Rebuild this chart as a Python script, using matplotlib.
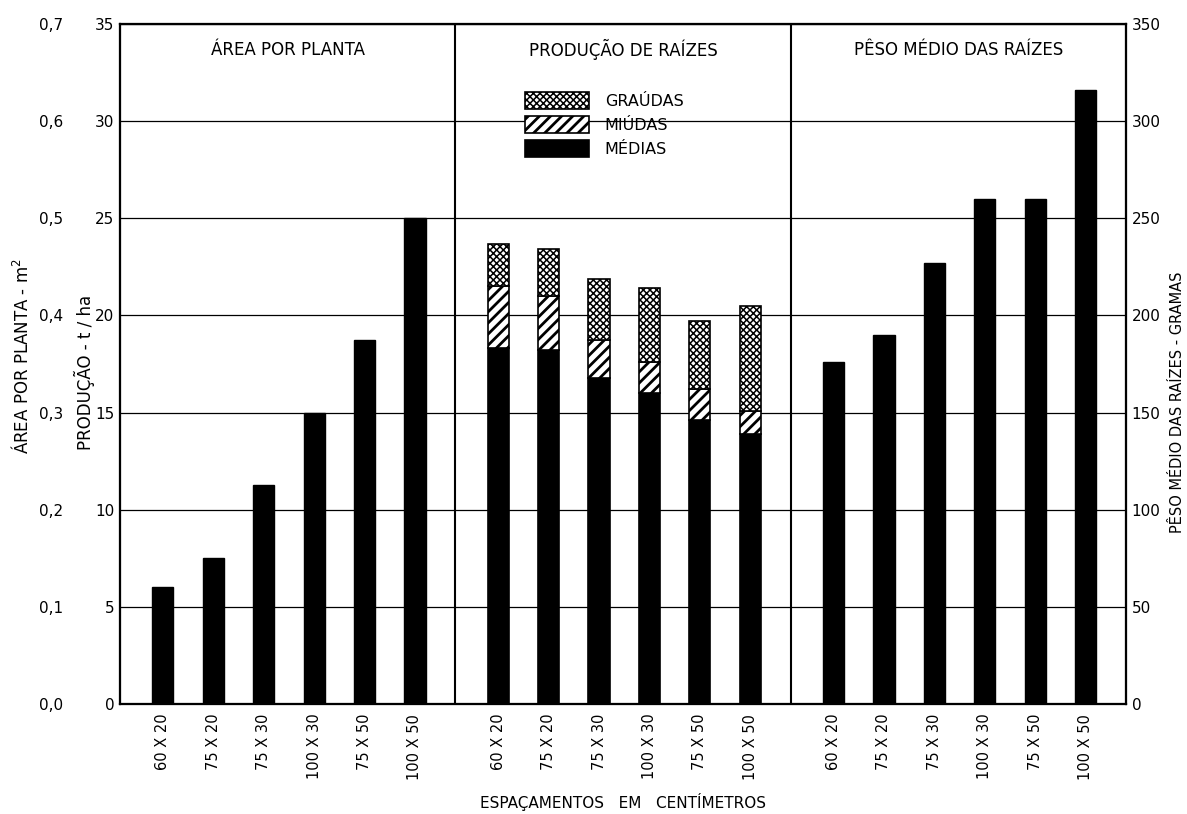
"""
Espaçamentos: área por planta, produção e peso médio das raízes.
"""

import matplotlib

matplotlib.use("Agg")

import matplotlib.pyplot as plt
import numpy as np

spacings = ["60 X 20", "75 X 20", "75 X 30", "100 X 30", "75 X 50", "100 X 50"]

# area per plant, m2
area_per_plant = [0.12, 0.15, 0.225, 0.30, 0.375, 0.50]

# root production, t/ha
prod_medias = [18.3, 18.2, 16.8, 16.0, 14.6, 13.9]
prod_miudas = [3.2, 2.8, 1.95, 1.6, 1.6, 1.2]
prod_graudas = [2.2, 2.4, 3.1, 3.8, 3.5, 5.4]

# mean root weight, g
peso_medio = [176, 190, 227, 260, 260, 316]

panel_titles = ["ÁREA POR PLANTA", "PRODUÇÃO DE RAÍZES", "PÊSO MÉDIO DAS RAÍZES"]
prod_ticks = [0, 5, 10, 15, 20, 25, 30, 35]
area_ticks = [0.0, 0.1, 0.2, 0.3, 0.4, 0.5, 0.6, 0.7]
area_tick_labels = ["0,0", "0,1", "0,2", "0,3", "0,4", "0,5", "0,6", "0,7"]
peso_ticks = [0, 50, 100, 150, 200, 250, 300, 350]

PANEL_W = 6.65
BAR_OFFSET = 0.85
BAR_W = 0.42
INK = "black"
STRIPE_LW = 2.0
STIPPLE_LW = 1.1

plt.rcParams["font.family"] = ["DejaVu Sans"]
plt.rcParams["hatch.color"] = INK


def set_hatch_lw(patches, lw):
    for patch in patches:
        if hasattr(patch, "set_hatch_linewidth"):
            patch.set_hatch_linewidth(lw)


fig = plt.figure(figsize=(11.87, 8.14), dpi=100, facecolor="white")
ax = fig.add_axes([120 / 1187, 1 - 704 / 814, (1126 - 120) / 1187, (704 - 24) / 814])
ax_area = ax.twinx()
ax_peso = ax.twinx()

idx = np.arange(len(spacings))
x_area = 0 * PANEL_W + BAR_OFFSET + idx
x_prod = 1 * PANEL_W + BAR_OFFSET + idx
x_peso = 2 * PANEL_W + BAR_OFFSET + idx

# panel 1: area per plant
ax_area.bar(x_area, area_per_plant, width=BAR_W, color=INK, edgecolor=INK, zorder=3)

# panel 2: stacked production
medias = np.array(prod_medias)
miudas = np.array(prod_miudas)
graudas = np.array(prod_graudas)
b_med = ax.bar(x_prod, medias, width=BAR_W, color=INK, edgecolor=INK, lw=1.2,
               zorder=3, label="MÉDIAS")
with plt.rc_context({"hatch.linewidth": STRIPE_LW}):
    b_miu = ax.bar(x_prod, miudas, bottom=medias, width=BAR_W, color="white",
                   edgecolor=INK, lw=1.2, hatch="///", zorder=3, label="MIÚDAS")
with plt.rc_context({"hatch.linewidth": STIPPLE_LW}):
    b_gra = ax.bar(x_prod, graudas, bottom=medias + miudas, width=BAR_W,
                   color="white", edgecolor=INK, lw=1.2, hatch="xxxxx", zorder=3,
                   label="GRAÚDAS")
set_hatch_lw(b_miu, STRIPE_LW)
set_hatch_lw(b_gra, STIPPLE_LW)

# panel 3: mean weight
ax_peso.bar(x_peso, peso_medio, width=BAR_W, color=INK, edgecolor=INK, zorder=3)

# axes limits and ticks
ax.set_xlim(0, 3 * PANEL_W)
ax.set_ylim(0, 35)
ax_area.set_ylim(0, 0.7)
ax_peso.set_ylim(0, 350)

ax.set_yticks(prod_ticks)
ax.set_yticklabels([str(t) for t in prod_ticks])
ax.tick_params(axis="y", length=0, pad=4, labelsize=11)
ax.grid(axis="y", color=INK, linewidth=0.9)
ax.set_axisbelow(True)

ax_area.yaxis.set_ticks_position("left")
ax_area.set_yticks(area_ticks)
ax_area.set_yticklabels(area_tick_labels)
ax_area.tick_params(axis="y", length=0, pad=41, labelsize=11)

ax_peso.set_yticks(peso_ticks)
ax_peso.set_yticklabels([str(t) for t in peso_ticks])
ax_peso.tick_params(axis="y", length=0, pad=4, labelsize=11)

ax.set_xticks(np.concatenate([x_area, x_prod, x_peso]))
ax.set_xticklabels(spacings * 3, rotation=90, fontsize=10.5)
ax.tick_params(axis="x", length=0, pad=7)

for a in (ax, ax_area, ax_peso):
    for spine in a.spines.values():
        spine.set_color(INK)
        spine.set_linewidth(1.5)

for boundary in (PANEL_W, 2 * PANEL_W):
    ax.axvline(boundary, color=INK, linewidth=1.5, zorder=4)

for i, title in enumerate(panel_titles):
    ax.text((i + 0.5) * PANEL_W, 0.962, title, transform=ax.get_xaxis_transform(),
            ha="center", va="center", fontsize=12)

# axis labels
fig.text(22 / 1187, 1 - 356 / 814, "ÁREA POR PLANTA - m$^{2}$", rotation=90,
         ha="center", va="center", fontsize=12)
fig.text(84 / 1187, 1 - 372 / 814, "PRODUÇÃO - t / ha", rotation=90,
         ha="center", va="center", fontsize=12)
fig.text(1178 / 1187, 1 - 402 / 814, "PÊSO MÉDIO DAS RAÍZES - GRAMAS", rotation=90,
         ha="center", va="center", fontsize=10.5)
fig.text(623 / 1187, 1 - 802 / 814, "ESPAÇAMENTOS   EM   CENTÍMETROS",
         ha="center", va="center", fontsize=11)

legend = ax.legend(
    handles=[b_gra, b_miu, b_med],
    loc="upper left",
    bbox_to_anchor=(525 / 1187, 1 - 92 / 814),
    bbox_transform=fig.transFigure,
    frameon=False,
    fontsize=11.5,
    handlelength=4.0,
    handleheight=1.3,
    handletextpad=1.0,
    labelspacing=0.4,
    borderpad=0,
    borderaxespad=0,
)
legend_patches = legend.get_patches()
set_hatch_lw(legend_patches[:1], STIPPLE_LW)
set_hatch_lw(legend_patches[1:2], STRIPE_LW)

fig.savefig("out.png", dpi=100, facecolor=fig.get_facecolor())
plt.close(fig)
